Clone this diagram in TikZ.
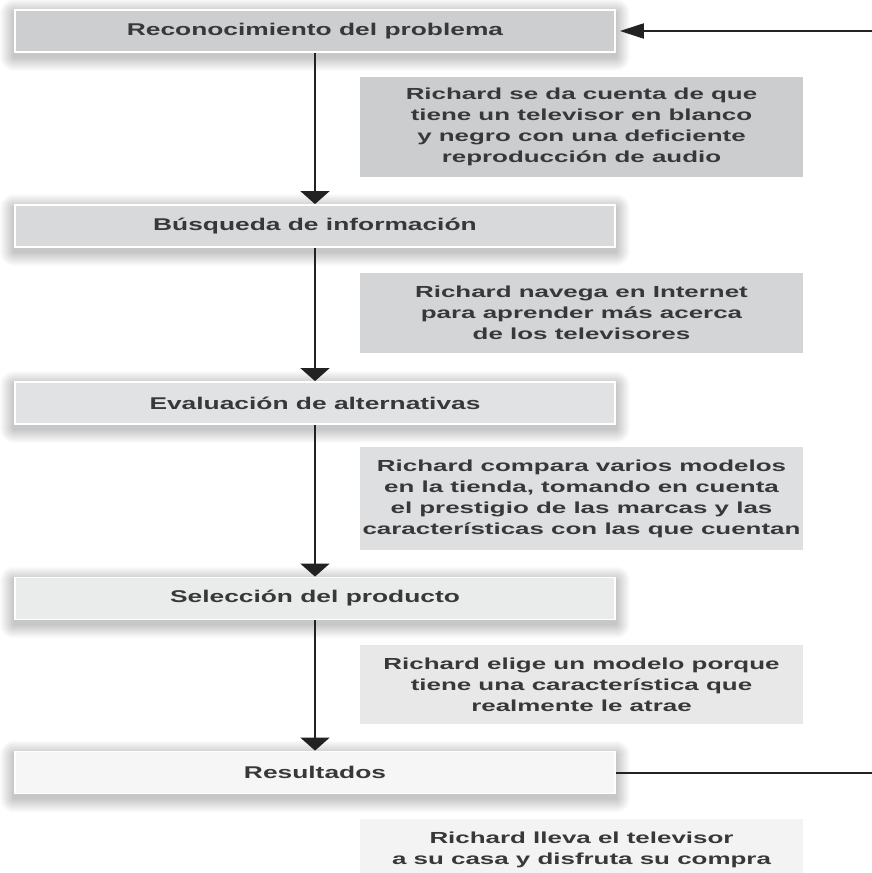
\documentclass[tikz,border=0pt]{standalone}
\usepackage{fontspec}
\newfontfamily\boxfont{Liberation Sans}[FakeStretch=1.55]
\newfontfamily\descfont{Liberation Sans}[FakeStretch=1.62]
\usetikzlibrary{arrows.meta,backgrounds}
\definecolor{txt}{HTML}{383838}
\definecolor{lin}{HTML}{222222}
\definecolor{cs1}{HTML}{CDCECF}
\definecolor{cd1}{HTML}{CCCDCF}
\definecolor{cs2}{HTML}{D8D9DA}
\definecolor{cd2}{HTML}{D4D5D6}
\definecolor{cs3}{HTML}{E1E2E3}
\definecolor{cd3}{HTML}{DEDFE0}
\definecolor{cs4}{HTML}{EAEBEB}
\definecolor{cd4}{HTML}{E8E8E8}
\definecolor{cs5}{HTML}{F6F6F6}
\definecolor{cd5}{HTML}{F3F3F3}
\begin{document}
\begin{tikzpicture}[x=1pt,y=-1pt,
  stagebox/.style={draw=white, line width=1.8pt, minimum width=600pt, minimum height=42pt,
    inner sep=0pt, font=\boxfont\bfseries\fontsize{17}{20}\selectfont, text=txt},
  descbox/.style={minimum width=443pt, inner sep=0pt, align=center,
    font=\descfont\bfseries\fontsize{16}{21}\selectfont, text=txt},
  glow/.style={fill=black, opacity=0.014},
  flow/.style={line width=2pt, draw=lin, -{Triangle[width=29pt,length=13pt]}},
  side/.style={line width=2pt, draw=lin}
]
\useasboundingbox (0,0) rectangle (872,873);

\node[stagebox, fill=cs1] (s1) at (315,31) {Reconocimiento del problema};
\node[stagebox, fill=cs2] (s2) at (315,226) {Búsqueda de información};
\node[stagebox, fill=cs3] (s3) at (315,403) {Evaluación de alternativas};
\node[stagebox, fill=cs4] (s4) at (315,598.5) {Selección del producto};
\node[stagebox, fill=cs5] (s5) at (315,772.5) {Resultados};

\node[descbox, fill=cd1, minimum height=100pt] (d1) at (581.5,127) {Richard se da cuenta de que\\tiene un televisor en blanco\\y negro con una deficiente\\reproducción de audio};
\node[descbox, fill=cd2, minimum height=80pt] (d2) at (581.5,313) {Richard navega en Internet\\para aprender más acerca\\de los televisores};
\node[descbox, fill=cd3, minimum height=103pt] (d3) at (581.5,498.5) {Richard compara varios modelos\\en la tienda, tomando en cuenta\\el prestigio de las marcas y las\\características con las que cuentan};
\node[descbox, fill=cd4, minimum height=79pt] (d4) at (581.5,684.5) {Richard elige un modelo porque\\tiene una característica que\\realmente le atrae};
\node[descbox, fill=cd5, minimum height=61pt] (d5) at (581.5,849.5) {Richard lleva el televisor\\a su casa y disfruta su compra};

\begin{pgfonlayer}{background}
  \fill[white] (0,0) rectangle (872,873);
  \foreach \n in {s1,s2,s3,s4,s5}{
    \foreach \i in {1,...,14}{
      \fill[glow, rounded corners=\i pt]
        ([xshift=-\i pt, yshift=\i pt-4pt]\n.north west) rectangle
        ([xshift=\i pt, yshift=-\i pt-4pt]\n.south east);
    }
  }
\end{pgfonlayer}

\draw[flow] (s1.south) -- (s2.north);
\draw[flow] (s2.south) -- (s3.north);
\draw[flow] (s3.south) -- (s4.north);
\draw[flow] (s4.south) -- (s5.north);

\coordinate (r1) at (872,31);
\coordinate (r5) at (872,772.5);
\draw[side, -{Triangle[width=15pt,length=24pt]}, shorten >=4pt] (r1) -- (s1.east);
\draw[side] (s5.east) -- (r5);
\end{tikzpicture}
\end{document}
